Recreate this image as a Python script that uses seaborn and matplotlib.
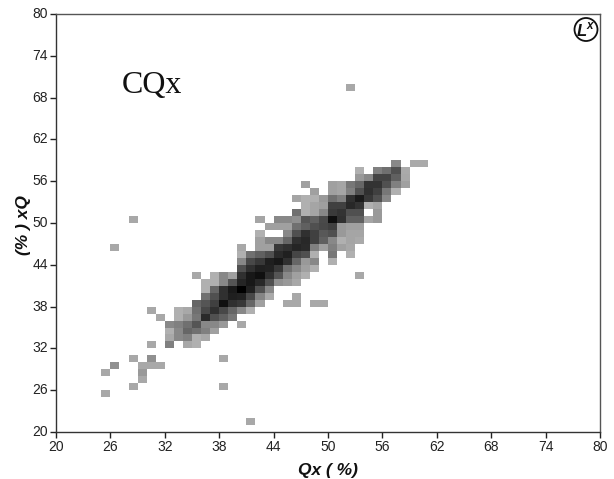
import matplotlib
matplotlib.use('Agg')
import matplotlib.pyplot as plt
from matplotlib.patches import Circle
from matplotlib.transforms import IdentityTransform
import pandas as pd
import seaborn as sns

# grey level of each occupied cell, one dict per Qx row: {column: shade}
row_21 = {41: 0xa8}
row_25 = {25: 0xa8}
row_26 = {28: 0xa8, 38: 0xa8}
row_27 = {29: 0xa8}
row_28 = {25: 0xa8, 29: 0x99}
row_29 = {26: 0x90, 29: 0xa8, 30: 0xa8, 31: 0xa8}
row_30 = {28: 0xa8, 30: 0x90, 38: 0xa8}
row_32 = {30: 0xa8, 32: 0x80, 34: 0xa8, 35: 0xb0}
row_33 = {32: 0xa8, 33: 0x88, 34: 0x80, 35: 0xb0, 36: 0xa8}
row_34 = {32: 0xb0, 33: 0x88, 34: 0x66, 35: 0x70, 36: 0x80, 37: 0xa0}
row_35 = {32: 0x88, 33: 0x80, 34: 0x70, 35: 0x55, 36: 0x88, 37: 0x88, 38: 0x99, 40: 0xa8}
row_36 = {31: 0xa8, 33: 0xb0, 34: 0x99, 35: 0x77, 36: 0x2a, 37: 0x50, 38: 0x60, 39: 0x77}
row_37 = {30: 0xa8, 33: 0xb0, 34: 0xa8, 35: 0x70, 36: 0x48, 37: 0x30, 38: 0x48, 39: 0x66,
          40: 0x88, 41: 0xb0}
row_38 = {35: 0x66, 36: 0x55, 37: 0x40, 38: 0x10, 39: 0x30, 40: 0x38, 41: 0x66, 42: 0xa0,
          45: 0xa8, 46: 0xa8, 48: 0xa8, 49: 0xa8}
row_39 = {36: 0x70, 37: 0x50, 38: 0x30, 39: 0x1f, 40: 0x22, 41: 0x48, 42: 0x85, 43: 0xaa, 46: 0xa8}
row_40 = {36: 0xb0, 37: 0x66, 38: 0x30, 39: 0x1a, 40: 0x00, 41: 0x20, 42: 0x50, 43: 0x88}
row_41 = {36: 0xb0, 37: 0xb0, 38: 0x88, 39: 0x55, 40: 0x25, 41: 0x18, 42: 0x28, 43: 0x50,
          44: 0x90, 45: 0x99, 46: 0xa8}
row_42 = {35: 0xa8, 37: 0xb0, 38: 0x88, 39: 0xa0, 40: 0x30, 41: 0x18, 42: 0x10, 43: 0x30,
          44: 0x55, 45: 0x88, 46: 0xa0, 47: 0xb0, 53: 0xa8}
row_43 = {40: 0x50, 41: 0x30, 42: 0x20, 43: 0x22, 44: 0x38, 45: 0x70, 46: 0x88, 47: 0xa0, 48: 0xb0}
row_44 = {40: 0x88, 41: 0x48, 42: 0x38, 43: 0x1f, 44: 0x18, 45: 0x30, 46: 0x66, 47: 0x99,
          48: 0x88, 50: 0xb0}
row_45 = {40: 0xb0, 41: 0x70, 42: 0x60, 43: 0x50, 44: 0x2a, 45: 0x20, 46: 0x45, 47: 0x50,
          48: 0xb0, 50: 0x77, 52: 0xb0}
row_46 = {26: 0xa8, 40: 0xa8, 42: 0xa0, 43: 0xa0, 44: 0x38, 45: 0x30, 46: 0x25, 47: 0x2a,
          48: 0x80, 49: 0xa0, 50: 0x80, 51: 0xa0, 52: 0xa8}
row_47 = {42: 0xa0, 43: 0x88, 44: 0x88, 45: 0x66, 46: 0x30, 47: 0x28, 48: 0x40, 49: 0x60,
          50: 0x88, 51: 0xb0, 52: 0xa5, 53: 0xaa}
row_48 = {42: 0xb0, 45: 0x88, 46: 0x50, 47: 0x30, 48: 0x40, 49: 0x58, 50: 0x50, 51: 0x99,
          52: 0xa5, 53: 0xa5}
row_49 = {43: 0xa0, 44: 0xa0, 45: 0xa0, 46: 0x70, 47: 0x60, 48: 0x50, 49: 0x48, 50: 0x40,
          51: 0x99, 52: 0xa0, 53: 0xa0}
row_50 = {28: 0xa8, 42: 0xa5, 44: 0x88, 45: 0x88, 46: 0x8f, 47: 0x55, 48: 0x60, 49: 0x4a,
          50: 0x0f, 51: 0x30, 52: 0x60, 53: 0x60, 54: 0xa5, 55: 0x99}
row_51 = {46: 0x70, 47: 0xb0, 48: 0xa5, 49: 0x88, 50: 0x3a, 51: 0x33, 52: 0x50, 53: 0x50, 55: 0x99}
row_52 = {47: 0xb0, 48: 0xa5, 49: 0x9f, 50: 0x40, 51: 0x40, 52: 0x28, 53: 0x33, 54: 0xb0, 55: 0xa5}
row_53 = {46: 0xa5, 47: 0xb0, 48: 0xb0, 49: 0x99, 50: 0x70, 51: 0x80, 52: 0x30, 53: 0x1a,
          54: 0x38, 55: 0x50, 56: 0x88}
row_54 = {48: 0xa0, 50: 0xa0, 51: 0xa5, 52: 0x80, 53: 0x50, 54: 0x30, 55: 0x40, 56: 0x77, 57: 0xb0}
row_55 = {47: 0xa0, 50: 0xa0, 51: 0xa5, 52: 0x77, 53: 0x66, 54: 0x33, 55: 0x33, 56: 0x50,
          57: 0x80, 58: 0xa0}
row_56 = {53: 0x99, 54: 0x88, 55: 0x44, 56: 0x44, 57: 0x60, 58: 0xa8}
row_57 = {53: 0xb0, 55: 0x80, 56: 0x70, 57: 0x50, 58: 0xaa}
row_58 = {57: 0x88, 59: 0xaa, 60: 0xaa}
row_69 = {52: 0xa8}

rows = {21: row_21, 25: row_25, 26: row_26, 27: row_27, 28: row_28, 29: row_29, 30: row_30,
        32: row_32, 33: row_33, 34: row_34, 35: row_35, 36: row_36, 37: row_37, 38: row_38,
        39: row_39, 40: row_40, 41: row_41, 42: row_42, 43: row_43, 44: row_44, 45: row_45,
        46: row_46, 47: row_47, 48: row_48, 49: row_49, 50: row_50, 51: row_51, 52: row_52,
        53: row_53, 54: row_54, 55: row_55, 56: row_56, 57: row_57, 58: row_58, 69: row_69}

tick_values = [20, 26, 32, 38, 44, 50, 56, 62, 68, 74, 80]

# Build the 60x60 grid
grid = pd.DataFrame(rows).T.reindex(index=range(20, 80), columns=range(20, 80))

sns.set_style('white')
plt.rcParams['font.family'] = ['Liberation Sans', 'DejaVu Sans']
plt.rcParams['mathtext.fontset'] = 'custom'
plt.rcParams['mathtext.bfit'] = 'Liberation Sans:italic:bold'

fig = plt.figure(figsize=(6.14, 4.79), dpi=100)
ax = fig.add_axes([56 / 614, 1 - 432 / 479, 544 / 614, 418 / 479])
sns.heatmap(grid, cmap='gray', vmin=0, vmax=255, cbar=False, ax=ax, linewidths=0, rasterized=False)
ax.set_ylim(0, 60)
ax.set_xlim(0, 60)

positions = [t - 20 for t in tick_values]
ax.set_xticks(positions)
ax.set_xticklabels(tick_values, rotation=0)
ax.set_yticks(positions)
ax.set_yticklabels(tick_values, rotation=0)
ax.tick_params(axis='both', which='major', direction='out', length=4.5, width=1, color='#222222',
               labelsize=10, labelcolor='#222222', pad=1.5, bottom=True, left=True)

for name, spine in ax.spines.items():
    spine.set_visible(True)
    spine.set_linewidth(1.0)
    spine.set_color('#333333' if name in ('left', 'bottom') else '#555555')

ax.set_xlabel('')
ax.set_ylabel('')
fig.text(328 / 614, 1 - 470 / 479, 'Qx ( %)', fontsize=12.5, fontweight='bold', fontstyle='italic',
         ha='center', va='center', color='#111111')
fig.text(24 / 614, 1 - 225 / 479, '(% ) xQ', fontsize=12.5, fontweight='bold', fontstyle='italic',
         rotation=90, ha='center', va='center', color='#111111')
fig.text(152 / 614, 1 - 85 / 479, 'CQx', fontsize=23, family='Liberation Serif',
         ha='center', va='center', color='#111111')

# circled mark in the top right corner
fig.add_artist(Circle((586, 479 - 29.5), 11.5, transform=IdentityTransform(), fill=False,
                      edgecolor='#111111', linewidth=1.3))
fig.text(586 / 614, 1 - 29.5 / 479, r'$\mathbfit{L}^{\mathbfit{x}}$', fontsize=12,
         ha='center', va='center', color='#111111')

fig.savefig('out.png', dpi=100)
